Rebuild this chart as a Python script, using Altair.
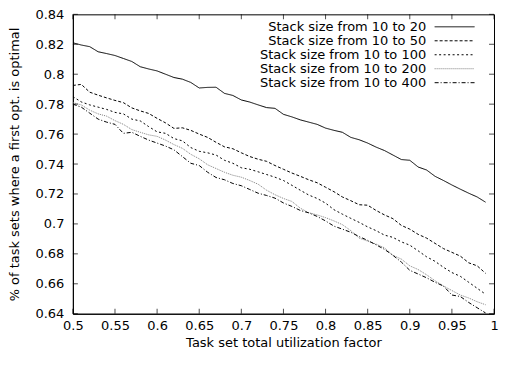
import altair as alt
import pandas as pd

x_vals = [round(0.50 + 0.01 * i, 2) for i in range(50)]

series_names = [
    "Stack size from 10 to 20",
    "Stack size from 10 to 50",
    "Stack size from 10 to 100",
    "Stack size from 10 to 200",
    "Stack size from 10 to 400",
]

s20 = [0.821, 0.8195, 0.8184, 0.815, 0.8138, 0.8125, 0.8105, 0.8085, 0.805, 0.8035,
       0.8022, 0.800, 0.7978, 0.7967, 0.7945, 0.7908, 0.7912, 0.7913, 0.7872, 0.7858,
       0.7828, 0.7814, 0.7795, 0.7777, 0.7772, 0.7732, 0.7715, 0.7695, 0.768, 0.7665,
       0.764, 0.7625, 0.7612, 0.7578, 0.7562, 0.754, 0.7513, 0.749, 0.746, 0.743,
       0.7425, 0.738, 0.736, 0.7318, 0.729, 0.726, 0.7232, 0.7205, 0.718, 0.7145]

s50 = [0.7925, 0.7932, 0.788, 0.786, 0.7842, 0.7825, 0.781, 0.7775, 0.7755, 0.7738,
       0.7705, 0.7675, 0.7638, 0.7642, 0.7625, 0.760, 0.7578, 0.7545, 0.7515, 0.7502,
       0.7475, 0.745, 0.7432, 0.7418, 0.739, 0.7365, 0.734, 0.7318, 0.7295, 0.7275,
       0.7245, 0.7215, 0.718, 0.7155, 0.7128, 0.7125, 0.709, 0.706, 0.7035, 0.699,
       0.6965, 0.693, 0.6905, 0.687, 0.6835, 0.681, 0.6785, 0.674, 0.672, 0.667]

s100 = [0.785, 0.7815, 0.7795, 0.778, 0.7765, 0.7745, 0.7735, 0.770, 0.7688, 0.765,
        0.7615, 0.7605, 0.757, 0.7555, 0.751, 0.7485, 0.7475, 0.746, 0.7425, 0.7405,
        0.7375, 0.7365, 0.7348, 0.733, 0.7312, 0.729, 0.7258, 0.7225, 0.7193, 0.717,
        0.7139, 0.7095, 0.7065, 0.7037, 0.701, 0.698, 0.6955, 0.6925, 0.691, 0.688,
        0.6858, 0.682, 0.678, 0.675, 0.671, 0.6675, 0.665, 0.661, 0.657, 0.653]

s200 = [0.781, 0.7795, 0.776, 0.7735, 0.772, 0.769, 0.7665, 0.763, 0.7612, 0.7595,
        0.7585, 0.756, 0.753, 0.7505, 0.7465, 0.7435, 0.7395, 0.737, 0.7345, 0.7325,
        0.7312, 0.729, 0.7265, 0.7225, 0.7195, 0.717, 0.715, 0.7105, 0.7075, 0.706,
        0.7042, 0.702, 0.6995, 0.6955, 0.6905, 0.6885, 0.6865, 0.684, 0.679, 0.6765,
        0.672, 0.6695, 0.666, 0.662, 0.6585, 0.6555, 0.6525, 0.6505, 0.648, 0.646]

s400 = [0.780, 0.778, 0.774, 0.770, 0.768, 0.7665, 0.7605, 0.7612, 0.7585, 0.756,
        0.754, 0.752, 0.7495, 0.745, 0.7405, 0.739, 0.7345, 0.731, 0.7295, 0.727,
        0.7255, 0.723, 0.7205, 0.719, 0.7172, 0.714, 0.7117, 0.709, 0.7074, 0.705,
        0.702, 0.6985, 0.6965, 0.6944, 0.6915, 0.689, 0.686, 0.683, 0.679, 0.6745,
        0.669, 0.6665, 0.664, 0.661, 0.6585, 0.6525, 0.6515, 0.6475, 0.644, 0.6405]

x_ticks = [0.5, 0.55, 0.6, 0.65, 0.7, 0.75, 0.8, 0.85, 0.9, 0.95, 1.0]
y_ticks = [0.64, 0.66, 0.68, 0.7, 0.72, 0.74, 0.76, 0.78, 0.8, 0.82, 0.84]

series_values = [s20, s50, s100, s200, s400]
rows = []
for name, vals in zip(series_names, series_values):
    for xv, yv in zip(x_vals, vals):
        rows.append({"u": xv, "v": yv, "series": name})
df = pd.DataFrame(rows)
xt_df = pd.DataFrame({"u": x_ticks})
yt_df = pd.DataFrame({"v": y_ticks})

FONT = "DejaVu Sans"
FS = 13
TICK = 5
W = 422
H = 300

xs = alt.Scale(domain=[0.5, 1.0], nice=False, zero=False)
ys = alt.Scale(domain=[0.64, 0.84], nice=False, zero=False)

x_axis = alt.Axis(values=x_ticks, format="~g", title="Task set total utilization factor",
                  ticks=False, tickSize=0, domain=True, domainColor="black",
                  domainWidth=1, grid=False, labelFlush=False, labelOverlap=False,
                  labelPadding=6, titlePadding=4)
y_axis = alt.Axis(values=y_ticks, format="~g",
                  title="% of task sets where a first opt. is optimal",
                  ticks=False, tickSize=0, domain=True, domainColor="black",
                  domainWidth=1, grid=False, labelFlush=False, labelOverlap=False,
                  labelPadding=9, titlePadding=14)

colors = ["#000000", "#000000", "#000000", "#808080", "#000000"]
dashes = [[1, 0], [3, 2], [2, 2.5], [1, 1], [4, 2, 1, 2]]


def make_legend():
    return alt.Legend(title=None, orient="top-right", offset=6,
                      symbolType="M-4,0H4M6.2,0", symbolSize=100,
                      symbolStrokeWidth=1, labelAlign="right",
                      labelOffset={"expr": "-35"}, labelLimit=400, rowPadding=0,
                      padding=0)


lines = alt.Chart(df).mark_line(strokeWidth=1, clip=True).encode(
    x=alt.X("u:Q", scale=xs, axis=x_axis),
    y=alt.Y("v:Q", scale=ys, axis=y_axis),
    color=alt.Color("series:N", sort=series_names,
                    scale=alt.Scale(domain=series_names, range=colors),
                    legend=make_legend()),
    strokeDash=alt.StrokeDash("series:N", sort=series_names,
                              scale=alt.Scale(domain=series_names, range=dashes),
                              legend=make_legend()),
    order=alt.Order("u:Q"),
)

bottom_ticks = alt.Chart(xt_df).mark_tick(color="black", thickness=1, size=TICK,
                                          yOffset=-TICK / 2).encode(
    x=alt.X("u:Q", scale=xs, axis=x_axis), y=alt.value(H),
)
top_ticks = alt.Chart(xt_df).mark_tick(color="black", thickness=1, size=TICK,
                                       yOffset=TICK / 2).encode(
    x=alt.X("u:Q", scale=xs, axis=x_axis), y=alt.value(0),
)
left_ticks = alt.Chart(yt_df).mark_tick(color="black", thickness=1, size=TICK,
                                        xOffset=TICK / 2).encode(
    y=alt.Y("v:Q", scale=ys, axis=y_axis), x=alt.value(0),
)
right_ticks = alt.Chart(yt_df).mark_tick(color="black", thickness=1, size=TICK,
                                         xOffset=-TICK / 2).encode(
    y=alt.Y("v:Q", scale=ys, axis=y_axis), x=alt.value(W),
)

chart = alt.layer(lines, bottom_ticks, top_ticks, left_ticks, right_ticks).properties(
    width=W, height=H,
    padding={"left": 0, "top": 0, "right": 0, "bottom": 0},
).configure_view(
    stroke="black", strokeWidth=1
).configure_axis(
    labelFont=FONT, labelFontSize=FS, labelColor="black",
    titleFont=FONT, titleFontSize=FS, titleColor="black", titleFontWeight="normal",
).configure_legend(
    labelFont=FONT, labelFontSize=FS, labelColor="black",
)

chart.save("out.html", embed_options={"renderer": "svg", "actions": False})
